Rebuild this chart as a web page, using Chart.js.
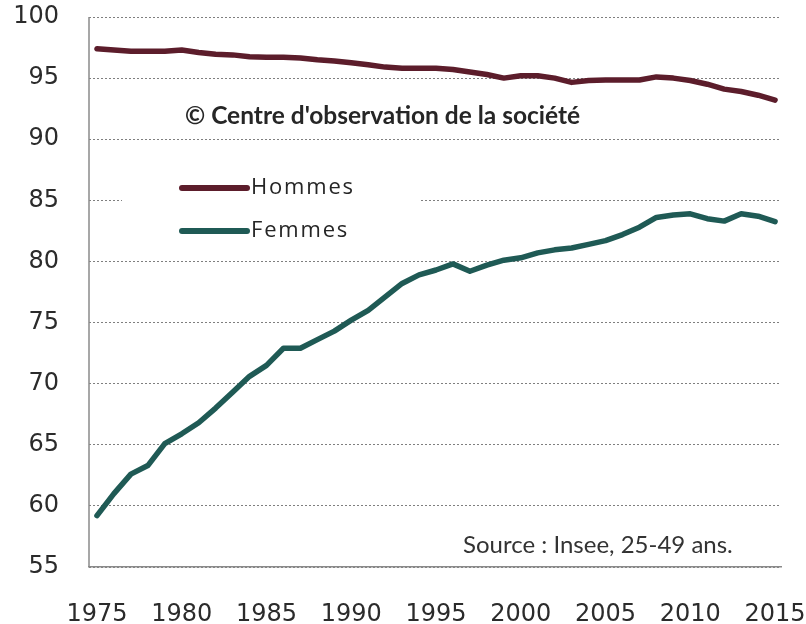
<!DOCTYPE html>
<html>
<head>
<meta charset="utf-8">
<script src="https://cdn.jsdelivr.net/npm/chart.js@4.4.1/dist/chart.umd.min.js"></script>
<style>
  html, body { margin: 0; padding: 0; background: #ffffff; }
  #wrap { width: 806px; height: 624px; position: relative; }
</style>
</head>
<body>
<div id="wrap"><canvas id="chart" width="806" height="624"></canvas></div>
<script>
// Taux d'activité des 25-49 ans (%), France
const years = [
  1975, 1976, 1977, 1978, 1979, 1980, 1981, 1982, 1983, 1984,
  1985, 1986, 1987, 1988, 1989, 1990, 1991, 1992, 1993, 1994,
  1995, 1996, 1997, 1998, 1999, 2000, 2001, 2002, 2003, 2004,
  2005, 2006, 2007, 2008, 2009, 2010, 2011, 2012, 2013, 2014, 2015
];
const hommes = [
  97.4, 97.3, 97.2, 97.2, 97.2, 97.3, 97.1, 96.95, 96.9, 96.75,
  96.7, 96.7, 96.65, 96.5, 96.4, 96.25, 96.1, 95.9, 95.8, 95.8,
  95.8, 95.7, 95.5, 95.3, 95.0, 95.2, 95.2, 95.0, 94.65, 94.8,
  94.85, 94.85, 94.85, 95.1, 95.0, 94.8, 94.5, 94.1, 93.9, 93.6, 93.2
];
const femmes = [
  59.2, 61.0, 62.6, 63.3, 65.1, 65.9, 66.8, 68.0, 69.3, 70.6,
  71.5, 72.9, 72.9, 73.6, 74.3, 75.2, 76.0, 77.1, 78.2, 78.9,
  79.3, 79.8, 79.2, 79.7, 80.1, 80.3, 80.7, 80.95, 81.1, 81.4,
  81.7, 82.2, 82.8, 83.6, 83.8, 83.9, 83.5, 83.3, 83.9, 83.7, 83.25
];
const xTickLabels = [1975, 1980, 1985, 1990, 1995, 2000, 2005, 2010, 2015];
const yTickLabels = [55, 60, 65, 70, 75, 80, 85, 90, 95, 100];
const seriesNames = ['Hommes', 'Femmes'];
const creditText = "\u00A9 Centre d'observation de la soci\u00E9t\u00E9";
const sourceText = 'Source : Insee, 25-49 ans.';

const colHommes = '#5c1d2b';
const colFemmes = '#1f5a55';

const toPoints = arr => arr.map((v, i) => ({ x: years[i], y: v }));

// Solid left axis line (the y grid itself is dotted)
const leftAxis = {
  id: 'leftAxis',
  beforeDatasetsDraw(chart) {
    const { ctx, chartArea } = chart;
    ctx.save();
    ctx.strokeStyle = '#8a8a8a';
    ctx.lineWidth = 1.5;
    ctx.beginPath();
    ctx.moveTo(chartArea.left, chartArea.top);
    ctx.lineTo(chartArea.left, chartArea.bottom);
    ctx.stroke();
    ctx.restore();
  }
};

// Legend box, credit line and source note drawn inside the plot area
const annotations = {
  id: 'annotations',
  afterDraw(chart) {
    const ctx = chart.ctx;
    ctx.save();
    // white legend panel that sits over the grid
    ctx.fillStyle = '#ffffff';
    ctx.fillRect(122, 160, 298, 92);

    const items = chart.data.datasets.map(ds => ({ label: ds.label, color: ds.borderColor }));
    const rows = [188, 231];
    items.forEach((it, i) => {
      const y = rows[i];
      ctx.strokeStyle = it.color;
      ctx.lineWidth = 6;
      ctx.lineCap = 'round';
      ctx.beginPath();
      ctx.moveTo(182, y);
      ctx.lineTo(247, y);
      ctx.stroke();
      ctx.fillStyle = '#262626';
      ctx.font = '22px "Open Sans"';
      ctx.letterSpacing = '1.8px';
      ctx.textBaseline = 'middle';
      ctx.textAlign = 'left';
      ctx.fillText(it.label, 251, y);
    });
    ctx.letterSpacing = '0px';

    ctx.fillStyle = '#262626';
    ctx.font = 'bold 24.5px Lato';
    ctx.textBaseline = 'middle';
    ctx.textAlign = 'left';
    ctx.fillText(creditText, 185, 116);

    ctx.fillStyle = '#333333';
    ctx.font = '24px Lato';
    ctx.fillText(sourceText, 463, 545);
    ctx.restore();
  }
};

new Chart(document.getElementById('chart'), {
  type: 'line',
  data: {
    datasets: [
      {
        label: seriesNames[0],
        data: toPoints(hommes),
        borderColor: colHommes,
        backgroundColor: colHommes,
        borderWidth: 5.5,
        pointRadius: 0,
        tension: 0,
        borderJoinStyle: 'round',
        borderCapStyle: 'round'
      },
      {
        label: seriesNames[1],
        data: toPoints(femmes),
        borderColor: colFemmes,
        backgroundColor: colFemmes,
        borderWidth: 5.5,
        pointRadius: 0,
        tension: 0,
        borderJoinStyle: 'round',
        borderCapStyle: 'round'
      }
    ]
  },
  options: {
    responsive: false,
    animation: false,
    devicePixelRatio: 1,
    layout: { padding: { top: 17, right: 25, left: 0, bottom: 0 } },
    plugins: {
      legend: { display: false },
      tooltip: { enabled: false }
    },
    scales: {
      x: {
        type: 'linear',
        min: 1974.53,
        max: 2015.35,
        afterBuildTicks: axis => { axis.ticks = xTickLabels.map(v => ({ value: v })); },
        afterFit: scale => {
          scale.height = 57;
          scale.paddingLeft = 0;
          scale.paddingRight = 0;
        },
        grid: { display: false, drawTicks: false },
        border: { display: true, color: '#8a8a8a', width: 1.5 },
        ticks: {
          autoSkip: false,
          maxRotation: 0,
          padding: 33,
          color: '#2b2b2b',
          font: { family: '"DejaVu Sans"', size: 24 },
          callback: v => String(v)
        }
      },
      y: {
        min: 55,
        max: 100,
        afterBuildTicks: axis => { axis.ticks = yTickLabels.map(v => ({ value: v })); },
        afterFit: scale => {
          scale.width = 89;
          scale.paddingTop = 0;
          scale.paddingBottom = 0;
        },
        grid: { color: '#7f7f7f', lineWidth: 1, drawTicks: false },
        border: { display: false, dash: [2, 2] },
        ticks: {
          padding: 30,
          color: '#2b2b2b',
          font: { family: '"DejaVu Sans"', size: 24 },
          callback: v => String(v)
        }
      }
    }
  },
  plugins: [leftAxis, annotations]
});
</script>
</body>
</html>
